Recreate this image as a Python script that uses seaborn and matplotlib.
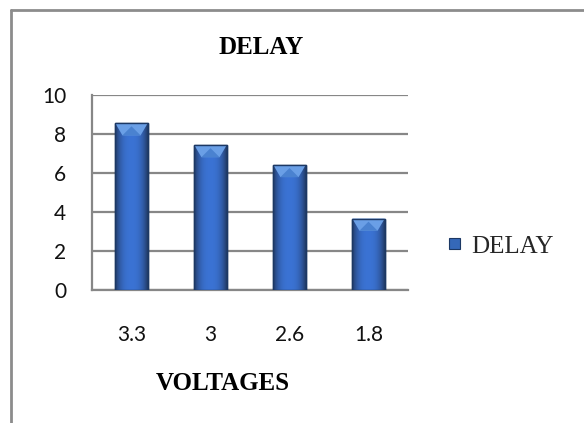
import numpy as np
import pandas as pd
import matplotlib
matplotlib.use("Agg")
import matplotlib.pyplot as plt
from matplotlib.patches import Patch, Polygon
from matplotlib.lines import Line2D
import seaborn as sns

# Data
voltages = ["3.3", "3", "2.6", "1.8"]
delay = [8.55, 7.43, 6.41, 3.66]
series_name = "DELAY"
y_ticks = [0, 2, 4, 6, 8, 10]

sns.set_theme(style="white")
plt.rcParams["font.family"] = ["Lato", "DejaVu Sans"]

W, H = 584, 423
fig = plt.figure(figsize=(W / 100, H / 100), dpi=100)
fig.patch.set_facecolor("white")

ax = fig.add_axes([92 / W, 1 - 290 / H, (408 - 92) / W, (290 - 95) / H])

df = pd.DataFrame({"Voltage": voltages, "Delay": delay})
sns.barplot(data=df, x="Voltage", y="Delay", ax=ax, color="#3568b8",
            width=0.41, saturation=1, edgecolor="#1c3864", linewidth=1.0,
            zorder=3)

grid_c = "#878787"
ax.set_xlim(-0.5, len(voltages) - 0.5)
ax.set_ylim(0, 10)
ax.set_yticks(y_ticks)
ax.set_yticklabels([str(t) for t in y_ticks])
ax.yaxis.grid(True, color=grid_c, linewidth=1.6, zorder=0)
ax.xaxis.grid(False)
ax.set_axisbelow(True)

for s in ["top", "right"]:
    ax.spines[s].set_visible(False)
for s in ["left", "bottom"]:
    ax.spines[s].set_color(grid_c)
    ax.spines[s].set_linewidth(1.6)

# Category boundary ticks on the x axis, labels at bar centres
ax.set_xticks(np.arange(-0.5, len(voltages)), minor=True)
ax.tick_params(axis="x", which="minor", direction="out", length=8,
               width=1.6, color=grid_c)
ax.tick_params(axis="x", which="major", length=0, pad=25, labelsize=15,
               labelcolor="#111111")
ax.tick_params(axis="y", which="major", direction="inout", length=11,
               width=1.6, color=grid_c, pad=13, labelsize=15,
               labelcolor="#111111")
ax.set_xlabel("")
ax.set_ylabel("")

# Shading on each bar: horizontal gradient and a bevelled top
grad = np.linspace(0, 1, 64)
shade = 1 - 0.55 * (2 * np.abs(grad - 0.5)) ** 2.5
grad_img = np.dstack([0.18 * shade + 0.05, 0.40 * shade + 0.05,
                      0.78 * shade + 0.05, np.ones_like(shade)])
bevel = 0.62
for p in ax.patches:
    x0, w, h = p.get_x(), p.get_width(), p.get_height()
    im = ax.imshow(grad_img, extent=[x0, x0 + w, 0, h], aspect="auto",
                   zorder=3.5, interpolation="bilinear")
    im.set_clip_path(p)
    tri = Polygon([[x0, h], [x0 + w, h], [x0 + 0.78 * w, h - bevel],
                   [x0 + 0.22 * w, h - bevel]], closed=True,
                  facecolor="#6a9fe6", edgecolor="none", zorder=3.6)
    ax.add_patch(tri)
    ax.add_patch(Polygon([[x0 + 0.22 * w, h - bevel], [x0 + 0.5 * w, h - bevel * 0.25],
                          [x0 + 0.78 * w, h - bevel]], closed=True,
                         facecolor="#4a82d0", edgecolor="none", zorder=3.7))
    ax.add_patch(plt.Rectangle((x0, 0), w, h, fill=False,
                               edgecolor="#1c3864", linewidth=1.0, zorder=3.8))
ax.set_xlim(-0.5, len(voltages) - 0.5)
ax.set_ylim(0, 10)

serif = ["Liberation Serif", "DejaVu Serif"]
fig.text(261 / W, 1 - 48 / H, "DELAY", ha="center", va="center",
         fontsize=18, fontweight="bold", family=serif, color="black")
fig.text(223 / W, 1 - 383 / H, "VOLTAGES", ha="center", va="center",
         fontsize=18, fontweight="bold", family=serif, color="black")

handle = Patch(facecolor="#3568b8", edgecolor="#1c3864", linewidth=0.8)
fig.legend(handles=[handle], labels=[series_name], loc="center left",
           bbox_to_anchor=(449 / W, 1 - 247 / H), frameon=False,
           handlelength=0.45, handleheight=0.3, handletextpad=0.45,
           borderpad=0, borderaxespad=0,
           prop={"family": serif, "size": 18})

# Outer chart frame (left and top edges)
frame_c = "#8c8c8c"
fig.add_artist(Line2D([10.5 / W, 10.5 / W], [0, 1 - 10.5 / H],
                      color=frame_c, linewidth=2, transform=fig.transFigure))
fig.add_artist(Line2D([10.5 / W, 1], [1 - 10.5 / H, 1 - 10.5 / H],
                      color=frame_c, linewidth=2, transform=fig.transFigure))

fig.savefig("out.png", dpi=100, facecolor="white")
